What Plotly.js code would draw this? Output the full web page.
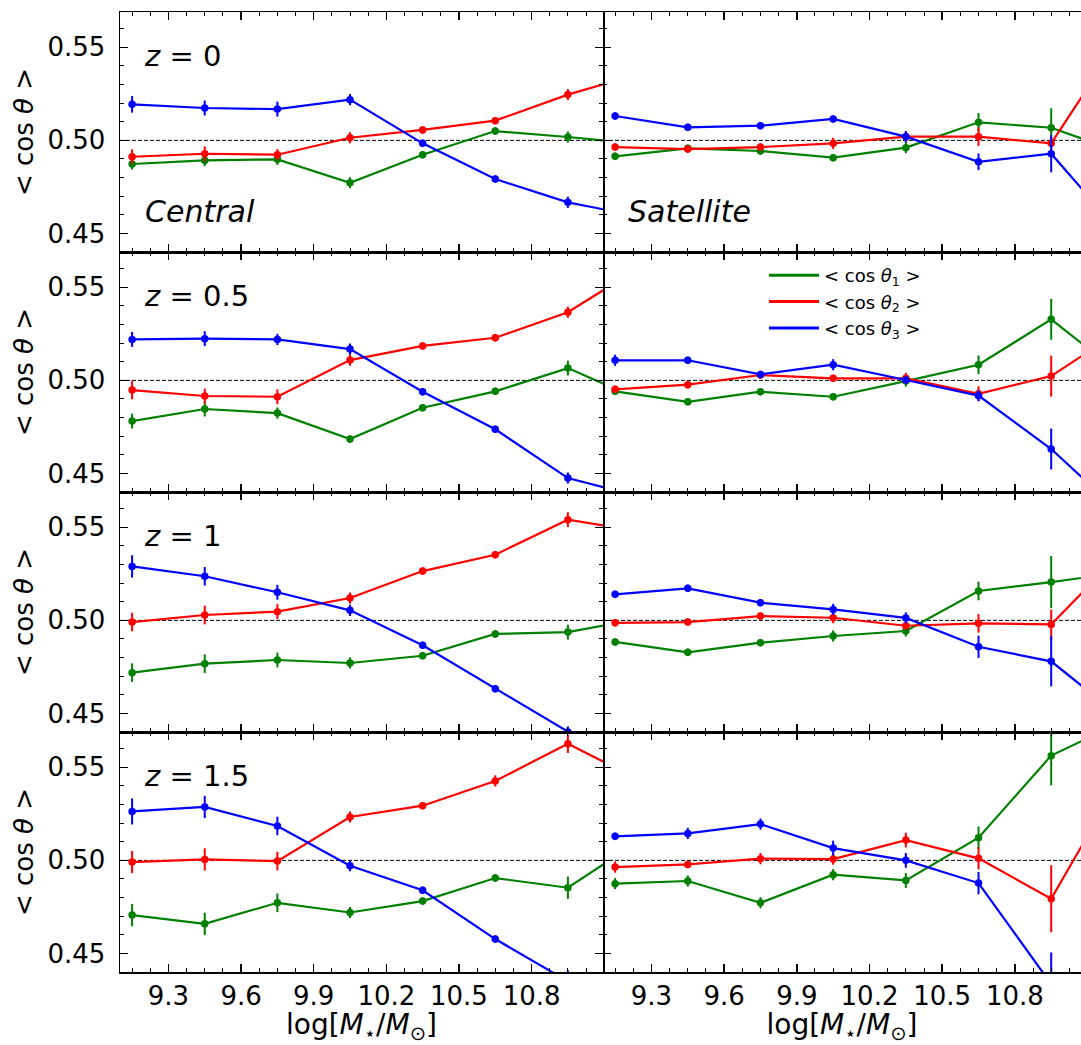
<!DOCTYPE html>
<html>
<head>
<meta charset="utf-8">
<script src="https://cdn.plot.ly/plotly-3.0.1.min.js"></script>
<style>html,body{margin:0;padding:0;background:#fff;}#plot{width:1081px;height:1045px;}</style>
</head>
<body>
<div id="plot"></div>
<script>
// ---- data ----
const logM = [9.15, 9.45, 9.75, 10.05, 10.35, 10.65, 10.95, 11.25];
const redshiftLabels = ["0", "0.5", "1", "1.5"];
const seriesNames = ["&lt; cos <i>θ</i><sub>1</sub> &gt;", "&lt; cos <i>θ</i><sub>2</sub> &gt;", "&lt; cos <i>θ</i><sub>3</sub> &gt;"];
const xTickVals = [9.3, 9.6, 9.9, 10.2, 10.5, 10.8];
const yTickVals = [0.45, 0.50, 0.55];

// z = 0
const cen_z0_cos1 = [0.4873, 0.4892, 0.4898, 0.4772, 0.4923, 0.5050, 0.5018, 0.4980];
const cen_z0_cos2 = [0.4912, 0.4928, 0.4923, 0.5014, 0.5056, 0.5106, 0.5246, 0.5360];
const cen_z0_cos3 = [0.5194, 0.5174, 0.5168, 0.5219, 0.4984, 0.4792, 0.4667, 0.4590];
const sat_z0_cos1 = [0.4914, 0.4957, 0.4943, 0.4907, 0.4961, 0.5097, 0.5068, 0.4930];
const sat_z0_cos2 = [0.4964, 0.4953, 0.4964, 0.4984, 0.5020, 0.5020, 0.4984, 0.5580];
const sat_z0_cos3 = [0.5131, 0.5070, 0.5079, 0.5115, 0.5020, 0.4885, 0.4928, 0.4480];
// z = 0.5
const cen_z05_cos1 = [0.4781, 0.4846, 0.4824, 0.4685, 0.4853, 0.4941, 0.5066, 0.4894];
const cen_z05_cos2 = [0.4948, 0.4916, 0.4912, 0.5109, 0.5185, 0.5229, 0.5366, 0.5610];
const cen_z05_cos3 = [0.5220, 0.5224, 0.5220, 0.5168, 0.4939, 0.4737, 0.4475, 0.4375];
const sat_z05_cos1 = [0.4941, 0.4885, 0.4939, 0.4912, 0.4996, 0.5084, 0.5328, 0.5020];
const sat_z05_cos2 = [0.4952, 0.4977, 0.5029, 0.5011, 0.5011, 0.4928, 0.5023, 0.5280];
const sat_z05_cos3 = [0.5108, 0.5108, 0.5032, 0.5084, 0.5002, 0.4918, 0.4631, 0.4270];
// z = 1
const cen_z1_cos1 = [0.4719, 0.4767, 0.4787, 0.4771, 0.4810, 0.4927, 0.4937, 0.5010];
const cen_z1_cos2 = [0.4991, 0.5029, 0.5047, 0.5120, 0.5265, 0.5353, 0.5541, 0.5477];
const cen_z1_cos3 = [0.5290, 0.5237, 0.5151, 0.5054, 0.4866, 0.4633, 0.4400, 0.4170];
const sat_z1_cos1 = [0.4884, 0.4828, 0.4880, 0.4916, 0.4943, 0.5158, 0.5206, 0.5259];
const sat_z1_cos2 = [0.4987, 0.4991, 0.5023, 0.5014, 0.4971, 0.4984, 0.4978, 0.5380];
const sat_z1_cos3 = [0.5140, 0.5172, 0.5095, 0.5059, 0.5013, 0.4858, 0.4780, 0.4466];
// z = 1.5
const cen_z15_cos1 = [0.4706, 0.4659, 0.4772, 0.4720, 0.4781, 0.4905, 0.4853, 0.5110];
const cen_z15_cos2 = [0.4991, 0.5005, 0.4996, 0.5233, 0.5294, 0.5427, 0.5627, 0.5430];
const cen_z15_cos3 = [0.5263, 0.5287, 0.5185, 0.4971, 0.4839, 0.4577, 0.4350, 0.4100];
const sat_z15_cos1 = [0.4875, 0.4889, 0.4772, 0.4923, 0.4892, 0.5122, 0.5563, 0.5750];
const sat_z15_cos2 = [0.4964, 0.4978, 0.5009, 0.5007, 0.5109, 0.5011, 0.4794, 0.5470];
const sat_z15_cos3 = [0.5129, 0.5145, 0.5195, 0.5066, 0.5000, 0.4878, 0.4335, 0.3800];

// error bars
const cen_z0_err1 = [0.003, 0.003, 0.003, 0.003, 0.002, 0.002, 0.003, 0.003];
const cen_z0_err2 = [0.004, 0.004, 0.003, 0.003, 0.002, 0.002, 0.003, 0.003];
const cen_z0_err3 = [0.0045, 0.004, 0.004, 0.003, 0.002, 0.002, 0.003, 0.003];
const sat_z0_err1 = [0.002, 0.002, 0.002, 0.002, 0.003, 0.005, 0.0105, 0.01];
const sat_z0_err2 = [0.002, 0.002, 0.002, 0.003, 0.003, 0.005, 0.003, 0.005];
const sat_z0_err3 = [0.002, 0.002, 0.002, 0.002, 0.003, 0.0045, 0.010, 0.01];
const cen_z05_err1 = [0.004, 0.004, 0.003, 0.002, 0.002, 0.002, 0.004, 0.004];
const cen_z05_err2 = [0.005, 0.004, 0.004, 0.003, 0.002, 0.002, 0.003, 0.003];
const cen_z05_err3 = [0.004, 0.004, 0.003, 0.003, 0.002, 0.002, 0.003, 0.003];
const sat_z05_err1 = [0.002, 0.002, 0.002, 0.002, 0.003, 0.005, 0.011, 0.011];
const sat_z05_err2 = [0.002, 0.002, 0.002, 0.002, 0.003, 0.004, 0.011, 0.011];
const sat_z05_err3 = [0.003, 0.002, 0.002, 0.003, 0.002, 0.003, 0.011, 0.011];
const cen_z1_err1 = [0.005, 0.005, 0.004, 0.003, 0.002, 0.002, 0.004, 0.004];
const cen_z1_err2 = [0.005, 0.005, 0.004, 0.003, 0.002, 0.002, 0.004, 0.004];
const cen_z1_err3 = [0.006, 0.005, 0.004, 0.003, 0.002, 0.002, 0.003, 0.003];
const sat_z1_err1 = [0.002, 0.002, 0.002, 0.003, 0.003, 0.005, 0.014, 0.014];
const sat_z1_err2 = [0.002, 0.002, 0.002, 0.003, 0.002, 0.005, 0.008, 0.008];
const sat_z1_err3 = [0.002, 0.002, 0.002, 0.003, 0.003, 0.006, 0.0135, 0.0135];
const cen_z15_err1 = [0.006, 0.006, 0.005, 0.003, 0.002, 0.002, 0.006, 0.006];
const cen_z15_err2 = [0.006, 0.006, 0.005, 0.003, 0.002, 0.003, 0.005, 0.005];
const cen_z15_err3 = [0.007, 0.006, 0.005, 0.003, 0.002, 0.002, 0.006, 0.006];
const sat_z15_err1 = [0.003, 0.003, 0.003, 0.003, 0.004, 0.006, 0.016, 0.016];
const sat_z15_err2 = [0.003, 0.002, 0.003, 0.003, 0.004, 0.006, 0.018, 0.018];
const sat_z15_err3 = [0.002, 0.003, 0.003, 0.004, 0.004, 0.006, 0.017, 0.017];

// ---- assemble panels ----
const panels = [
  {row: 0, col: 0, ys: [cen_z0_cos1, cen_z0_cos2, cen_z0_cos3], es: [cen_z0_err1, cen_z0_err2, cen_z0_err3]},
  {row: 0, col: 1, ys: [sat_z0_cos1, sat_z0_cos2, sat_z0_cos3], es: [sat_z0_err1, sat_z0_err2, sat_z0_err3]},
  {row: 1, col: 0, ys: [cen_z05_cos1, cen_z05_cos2, cen_z05_cos3], es: [cen_z05_err1, cen_z05_err2, cen_z05_err3]},
  {row: 1, col: 1, ys: [sat_z05_cos1, sat_z05_cos2, sat_z05_cos3], es: [sat_z05_err1, sat_z05_err2, sat_z05_err3]},
  {row: 2, col: 0, ys: [cen_z1_cos1, cen_z1_cos2, cen_z1_cos3], es: [cen_z1_err1, cen_z1_err2, cen_z1_err3]},
  {row: 2, col: 1, ys: [sat_z1_cos1, sat_z1_cos2, sat_z1_cos3], es: [sat_z1_err1, sat_z1_err2, sat_z1_err3]},
  {row: 3, col: 0, ys: [cen_z15_cos1, cen_z15_cos2, cen_z15_cos3], es: [cen_z15_err1, cen_z15_err2, cen_z15_err3]},
  {row: 3, col: 1, ys: [sat_z15_cos1, sat_z15_cos2, sat_z15_cos3], es: [sat_z15_err1, sat_z15_err2, sat_z15_err3]}
];
const colors = ["#008000", "#ff0000", "#0000ff"];
const FONT = "DejaVu Sans, Liberation Sans, sans-serif";

const W = 1081, H = 1045;
const mL = 120, mR = 0, mT = 12, mB = 73;
const plotW = W - mL - mR, plotH = H - mT - mB;
const splitX = (603 - mL) / plotW;

const traces = [];
const layout = {
  width: W, height: H,
  margin: {l: mL, r: mR, t: mT, b: mB, pad: 0},
  paper_bgcolor: "#fff", plot_bgcolor: "#fff",
  font: {family: FONT, color: "#000", size: 26},
  showlegend: true,
  legend: {
    x: (764 - mL) / plotW, y: 1 - (257 - mT) / plotH, xanchor: "left", yanchor: "top",
    xref: "paper", yref: "paper",
    bgcolor: "rgba(0,0,0,0)", borderwidth: 0,
    font: {family: FONT, size: 18, color: "#000"},
    itemwidth: 50, tracegroupgap: 0
  },
  shapes: [], annotations: []
};

panels.forEach((p, idx) => {
  const k = idx + 1;
  const xa = "x" + (k === 1 ? "" : k);
  const ya = "y" + (k === 1 ? "" : k);
  for (let s = 0; s < 3; s++) {
    traces.push({
      type: "scatter", mode: "lines+markers",
      x: logM, y: p.ys[s],
      xaxis: xa, yaxis: ya,
      name: seriesNames[s],
      showlegend: false,
      line: {color: colors[s], width: 2.2},
      marker: {color: colors[s], size: 7.5, symbol: "circle"},
      error_y: {type: "data", array: p.es[s], visible: true, color: colors[s], thickness: 2, width: 0},
      hoverinfo: "skip"
    });
  }
  const yTop = 1 - p.row * 0.25, yBot = yTop - 0.25;
  const xDom = p.col === 0 ? [0, splitX] : [splitX, 1];
  const xRange = p.col === 0 ? [9.1, 11.095] : [9.1, 11.073];
  const xKey = "xaxis" + (k === 1 ? "" : k);
  const yKey = "yaxis" + (k === 1 ? "" : k);
  const xAx = {
    domain: xDom, anchor: ya, range: xRange,
    tickmode: "linear", tick0: xTickVals[0], dtick: xTickVals[1] - xTickVals[0], tickformat: ".1f",
    ticks: "inside", ticklen: 8, tickwidth: 1.5, tickcolor: "#000",
    minor: {ticks: "inside", ticklen: 4, tickwidth: 1, tickcolor: "#000", tick0: xTickVals[0], dtick: (xTickVals[1] - xTickVals[0]) / 4, showgrid: false},
    showline: true, linecolor: "#000", linewidth: 1.5, mirror: "allticks",
    showgrid: false, zeroline: false,
    showticklabels: p.row === 3,
    tickfont: {family: FONT, size: 26}
  };
  if (p.row === 3) xAx.title = {text: "log[<i>M</i><sub>⋆</sub>/<i>M</i><sub>⊙</sub>]", font: {family: FONT, size: 28}, standoff: 2};
  layout[xKey] = xAx;
  const yAx = {
    domain: [yBot, yTop], anchor: xa, range: [0.44, 0.569],
    tickmode: "linear", tick0: yTickVals[0], dtick: yTickVals[1] - yTickVals[0], tickformat: ".2f",
    ticks: "inside", ticklen: 8, tickwidth: 1.5, tickcolor: "#000",
    minor: {ticks: "inside", ticklen: 4, tickwidth: 1, tickcolor: "#000", tick0: yTickVals[0], dtick: 0.01, showgrid: false},
    showline: p.col === 0, linecolor: "#000", linewidth: 1.5, mirror: p.col === 0 ? "allticks" : false,
    showgrid: false, zeroline: false,
    showticklabels: p.col === 0,
    ticklabelstandoff: 8,
    tickfont: {family: FONT, size: 26}
  };
  if (p.col === 0) yAx.title = {text: "&lt; cos <i>θ</i> &gt;", font: {family: FONT, size: 26}, standoff: 6};
  layout[yKey] = yAx;
  // reference line at 0.5
  layout.shapes.push({
    type: "line", xref: xa + " domain", yref: ya, x0: 0, x1: 1, y0: 0.5, y1: 0.5,
    line: {color: "#000", width: 1, dash: "4px,2px"}, layer: "below"
  });
  if (p.col === 0) {
    layout.annotations.push({
      xref: xa + " domain", yref: ya + " domain", x: 0.046, y: 0.818,
      xanchor: "left", yanchor: "middle", showarrow: false,
      text: "<i>z</i> = " + redshiftLabels[p.row],
      font: {family: FONT, size: 29, color: "#000"}
    });
  }
  if (p.row === 0) {
    layout.annotations.push({
      xref: xa + " domain", yref: ya + " domain", x: 0.048, y: 0.167,
      xanchor: "left", yanchor: "middle", showarrow: false,
      text: "<i>" + (p.col === 0 ? "Central" : "Satellite") + "</i>",
      font: {family: FONT, size: 30, color: "#000"}
    });
  }
});

// legend entries (line samples only, as in the reference legend)
for (let s = 0; s < 3; s++) {
  traces.push({
    type: "scatter", mode: "lines", x: [null], y: [null],
    xaxis: "x4", yaxis: "y4",
    name: seriesNames[s], showlegend: true,
    line: {color: colors[s], width: 3}, hoverinfo: "skip"
  });
}

Plotly.newPlot("plot", traces, layout, {staticPlot: true, displayModeBar: false});
</script>
</body>
</html>
